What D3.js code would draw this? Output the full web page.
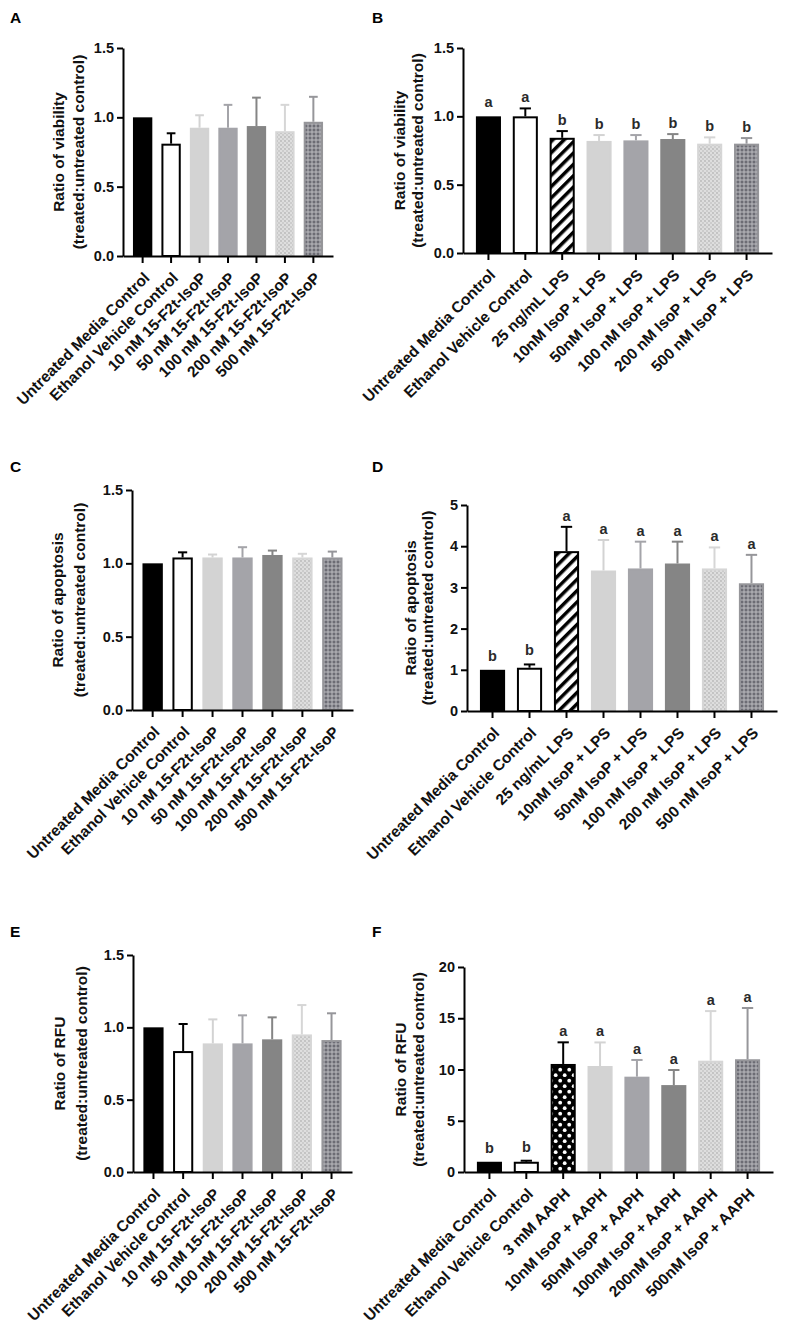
<!DOCTYPE html>
<html>
<head>
<meta charset="utf-8">
<script src="https://cdn.jsdelivr.net/npm/d3@7"></script>
<style>
    body { margin: 0; background: #fff; }
    text { font-family: Arial, "Liberation Sans", sans-serif; font-weight: bold; }
</style>
</head>
<body>
<script>
// category labels
var isopLabels = ["Untreated Media Control", "Ethanol Vehicle Control", "10 nM 15-F2t-IsoP", "50 nM 15-F2t-IsoP",
    "100 nM 15-F2t-IsoP", "200 nM 15-F2t-IsoP", "500 nM 15-F2t-IsoP"];
var lpsLabels = ["Untreated Media Control", "Ethanol Vehicle Control", "25 ng/mL LPS", "10nM IsoP + LPS",
    "50nM IsoP + LPS", "100 nM IsoP + LPS", "200 nM IsoP + LPS", "500 nM IsoP + LPS"];
var aaphLabels = ["Untreated Media Control", "Ethanol Vehicle Control", "3 mM AAPH", "10nM IsoP + AAPH",
    "50nM IsoP + AAPH", "100nM IsoP + AAPH", "200nM IsoP + AAPH", "500nM IsoP + AAPH"];

// A - viability, IsoP alone
var viabilityA = [1.0, 0.81, 0.925, 0.925, 0.937, 0.90, 0.968];
var errA = [0, 0.075, 0.09, 0.165, 0.205, 0.19, 0.18];

// B - viability, IsoP + LPS
var viabilityB = [1.0, 1.0, 0.843, 0.82, 0.824, 0.834, 0.80, 0.80];
var errB = [0, 0.058, 0.049, 0.043, 0.039, 0.036, 0.046, 0.041];
var lettersB = ["a", "a", "b", "b", "b", "b", "b", "b"];

// C - apoptosis, IsoP alone
var apoptosisC = [1.0, 1.04, 1.04, 1.04, 1.057, 1.04, 1.04];
var errC = [0, 0.035, 0.02, 0.07, 0.03, 0.025, 0.04];

// D - apoptosis, IsoP + LPS
var apoptosisD = [1.0, 1.05, 3.88, 3.41, 3.46, 3.58, 3.46, 3.1];
var errD = [0, 0.08, 0.59, 0.74, 0.65, 0.53, 0.51, 0.69];
var lettersD = ["b", "b", "a", "a", "a", "a", "a", "a"];

// E - RFU, IsoP alone
var rfuE = [1.0, 0.836, 0.889, 0.889, 0.917, 0.951, 0.912];
var errE = [0, 0.187, 0.166, 0.194, 0.152, 0.203, 0.185];

// F - RFU, IsoP + AAPH
var rfuF = [1.0, 1.0, 10.54, 10.34, 9.3, 8.48, 10.86, 11.0];
var errF = [0, 0.1, 2.11, 2.3, 1.63, 1.47, 4.84, 5.0];
var lettersF = ["b", "b", "a", "a", "a", "a", "a", "a"];

// y tick labels
var ticks15 = [0, 0.5, 1.0, 1.5];
var ticksD = [0, 1, 2, 3, 4, 5];
var ticksF = [0, 5, 10, 15, 20];

(function(){

    var width = 792,
        height = 1339;

    var svg = d3.select("body")
        .append("svg")
        .attr("width", width)
        .attr("height", height);

    makePatterns(svg.append("defs"));

    //bar looks, graphpad style
    var isopFills = ["#000", "#fff", "#d3d3d3", "#a4a4a9", "#858585", "url(#dots)", "url(#checker)"],
        isopStrokes = ["#000", "#000", "#d3d3d3", "#a4a4a9", "#858585", "#d6d6d6", "#96969a"],
        lpsFills = ["#000", "#fff", "url(#hatch)", "#d3d3d3", "#a4a4a9", "#858585", "url(#dots)", "url(#checker)"],
        lpsStrokes = ["#000", "#000", "#000", "#d3d3d3", "#a4a4a9", "#858585", "#d6d6d6", "#96969a"],
        aaphFills = ["#000", "#fff", "url(#polka)", "#d3d3d3", "#a4a4a9", "#858585", "url(#dots)", "url(#checker)"];

    var fmt1 = d3.format(".1f"),
        fmt0 = d3.format("d");

    var panels = [
        {letter: "A", labels: isopLabels, values: viabilityA, errors: errA, letters: null, ticks: ticks15, fmt: fmt1,
            title: ["Ratio of viability", "(treated:untreated control)"],
            x0: 123, x1: 333, yTop: 48, yBot: 256, lx: 10, ly: 23, t1: -64, t2: -44,
            fills: isopFills, strokes: isopStrokes},
        {letter: "B", labels: lpsLabels, values: viabilityB, errors: errB, letters: lettersB, ticks: ticks15, fmt: fmt1,
            title: ["Ratio of viability", "(treated:untreated control)"],
            x0: 463, x1: 772, yTop: 48, yBot: 253, lx: 372, ly: 23, t1: -63, t2: -45,
            fills: lpsFills, strokes: lpsStrokes},
        {letter: "C", labels: isopLabels, values: apoptosisC, errors: errC, letters: null, ticks: ticks15, fmt: fmt1,
            title: ["Ratio of apoptosis", "(treated:untreated control)"],
            x0: 132, x1: 353, yTop: 490, yBot: 710, lx: 10, ly: 472, t1: -74, t2: -52,
            fills: isopFills, strokes: isopStrokes},
        {letter: "D", labels: lpsLabels, values: apoptosisD, errors: errD, letters: lettersD, ticks: ticksD, fmt: fmt0,
            title: ["Ratio of apoptosis", "(treated:untreated control)"],
            x0: 467, x1: 777, yTop: 505, yBot: 711, lx: 372, ly: 472, t1: -56, t2: -39,
            fills: lpsFills, strokes: lpsStrokes},
        {letter: "E", labels: isopLabels, values: rfuE, errors: errE, letters: null, ticks: ticks15, fmt: fmt1,
            title: ["Ratio of RFU", "(treated:untreated control)"],
            x0: 133, x1: 352, yTop: 955, yBot: 1172, lx: 10, ly: 937, t1: -73, t2: -51,
            fills: isopFills, strokes: isopStrokes},
        {letter: "F", labels: aaphLabels, values: rfuF, errors: errF, letters: lettersF, ticks: ticksF, fmt: fmt0,
            title: ["Ratio of RFU", "(treated:untreated control)"],
            x0: 464, x1: 773, yTop: 967, yBot: 1172, lx: 372, ly: 937, t1: -63, t2: -45,
            fills: aaphFills, strokes: lpsStrokes}
    ];

    panels.forEach(function(p){
        drawPanel(svg, p);
    });


    function makePatterns(defs){
        //diagonal stripes for LPS
        var hatch = defs.append("pattern")
            .attr("id", "hatch")
            .attr("patternUnits", "userSpaceOnUse")
            .attr("width", 8)
            .attr("height", 8)
            .attr("patternTransform", "rotate(45)");
        hatch.append("rect").attr("width", 8).attr("height", 8).attr("fill", "#fff");
        hatch.append("rect").attr("width", 3.5).attr("height", 8).attr("fill", "#000");

        //white dots on black for AAPH
        var polka = defs.append("pattern")
            .attr("id", "polka")
            .attr("patternUnits", "userSpaceOnUse")
            .attr("width", 9)
            .attr("height", 11);
        polka.append("rect").attr("width", 9).attr("height", 11).attr("fill", "#000");
        polka.append("circle").attr("cx", 2.2).attr("cy", 2.7).attr("r", 1.9).attr("fill", "#fff");
        polka.append("circle").attr("cx", 6.7).attr("cy", 8.2).attr("r", 1.9).attr("fill", "#fff");

        //fine dots, 200 nM
        var dots = defs.append("pattern")
            .attr("id", "dots")
            .attr("patternUnits", "userSpaceOnUse")
            .attr("width", 4)
            .attr("height", 4);
        dots.append("rect").attr("width", 4).attr("height", 4).attr("fill", "#dedede");
        dots.append("circle").attr("cx", 1).attr("cy", 1).attr("r", 0.9).attr("fill", "#b8b8b8");
        dots.append("circle").attr("cx", 3).attr("cy", 3).attr("r", 0.9).attr("fill", "#c4c4c4");

        //grid, 500 nM
        var checker = defs.append("pattern")
            .attr("id", "checker")
            .attr("patternUnits", "userSpaceOnUse")
            .attr("width", 4)
            .attr("height", 4);
        checker.append("rect").attr("width", 4).attr("height", 4).attr("fill", "#bcbcc0");
        checker.append("rect").attr("x", 0.5).attr("y", 0.5).attr("width", 3).attr("height", 3).attr("fill", "#6c6c74");
    };

    function drawPanel(svg, p){
        var g = svg.append("g").attr("class", "panel" + p.letter);

        var x = d3.scaleBand()
            .domain(p.labels)
            .range([p.x0, p.x1])
            .paddingInner(0.32)
            .paddingOuter(0.35);

        var y = d3.scaleLinear()
            .domain([0, d3.max(p.ticks)])
            .range([p.yBot, p.yTop]);

        var bw = x.bandwidth(),
            capW = bw * 0.45;

        //bars
        g.selectAll(".bar")
            .data(p.values)
            .enter()
            .append("rect")
            .attr("class", "bar")
            .attr("x", function(d, i){ return x(p.labels[i]) + 1; })
            .attr("y", function(d){ return y(d) + 1; })
            .attr("width", bw - 2)
            .attr("height", function(d){ return p.yBot - y(d) - 1; })
            .attr("fill", function(d, i){ return p.fills[i]; })
            .attr("stroke", function(d, i){ return p.strokes[i]; })
            .attr("stroke-width", 2);

        //error bars, upper side only
        g.selectAll(".err")
            .data(p.values)
            .enter()
            .append("g")
            .attr("class", "err")
            .each(function(d, i){
                var e = p.errors[i];
                if (!(e > 0)) return;
                var cx = x(p.labels[i]) + bw / 2;
                var sel = d3.select(this);
                sel.append("line")
                    .attr("x1", cx).attr("x2", cx)
                    .attr("y1", y(d)).attr("y2", y(d + e))
                    .attr("stroke", p.strokes[i])
                    .attr("stroke-width", 2);
                sel.append("line")
                    .attr("x1", cx - capW / 2).attr("x2", cx + capW / 2)
                    .attr("y1", y(d + e)).attr("y2", y(d + e))
                    .attr("stroke", p.strokes[i])
                    .attr("stroke-width", 2);
            });

        //significance letters
        if (p.letters) {
            var top = d3.max(p.ticks);
            g.selectAll(".sig")
                .data(p.letters)
                .enter()
                .append("text")
                .attr("class", "sig")
                .attr("x", function(d, i){ return x(p.labels[i]) + bw / 2; })
                .attr("y", function(d, i){
                    var e = p.errors[i];
                    return y(p.values[i] + e) - (e > 0.018 * top ? 6 : 9);
                })
                .attr("text-anchor", "middle")
                .attr("font-size", 14.5)
                .attr("fill", "#2a2a2a")
                .text(function(d){ return d; });
        }

        //y axis
        var yAxis = g.append("g")
            .attr("transform", "translate(" + p.x0 + ",0)")
            .call(d3.axisLeft(y).tickValues(p.ticks).tickFormat(p.fmt).tickSize(6).tickSizeOuter(0).tickPadding(3));
        styleAxis(yAxis);
        yAxis.selectAll("text").attr("font-size", 14.5);

        //x axis
        var xAxis = g.append("g")
            .attr("transform", "translate(0," + p.yBot + ")")
            .call(d3.axisBottom(x).tickSize(7).tickSizeOuter(0));
        styleAxis(xAxis);
        xAxis.selectAll("text")
            .attr("x", 0)
            .attr("y", 0)
            .attr("dy", "0.35em")
            .attr("text-anchor", "end")
            .attr("font-size", 15.5)
            .attr("transform", "translate(4,19) rotate(-45)");

        //y title, two lines
        var midY = (p.yTop + p.yBot) / 2;
        [p.t1, p.t2].forEach(function(off, k){
            g.append("text")
                .attr("transform", "translate(" + (p.x0 + off) + "," + midY + ") rotate(-90)")
                .attr("text-anchor", "middle")
                .attr("dy", "0.35em")
                .attr("font-size", 15.5)
                .attr("fill", "#111")
                .text(p.title[k]);
        });

        //panel letter
        g.append("text")
            .attr("x", p.lx)
            .attr("y", p.ly)
            .attr("font-size", 15.5)
            .attr("fill", "#000")
            .text(p.letter);
    };

    function styleAxis(ax){
        ax.attr("font-family", null)
            .attr("font-size", null);
        ax.select(".domain")
            .attr("stroke", "#000")
            .attr("stroke-width", 2);
        ax.selectAll(".tick line")
            .attr("stroke", "#000")
            .attr("stroke-width", 2);
        ax.selectAll("text")
            .attr("fill", "#111");
    };

})();
</script>
</body>
</html>
